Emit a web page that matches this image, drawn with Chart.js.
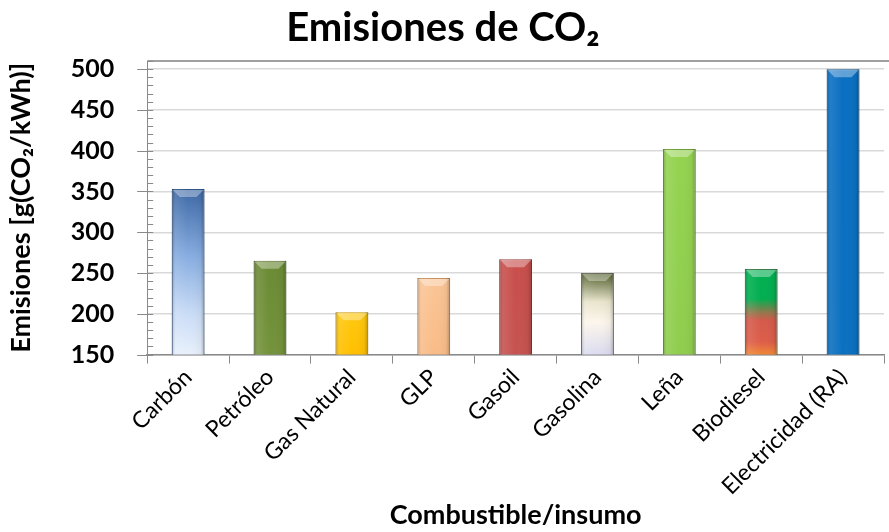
<!DOCTYPE html>
<html lang="es">
<head>
  <meta charset="UTF-8" />
  <title>Emisiones de CO2</title>
  <script src="https://cdn.jsdelivr.net/npm/chart.js"></script>
  <style>
    * { box-sizing: border-box; }
    body { margin: 0; background: #fff; }
    #wrap { width: 889px; height: 532px; }
  </style>
</head>
<body>
  <div id="wrap"><canvas id="chartCanvas"></canvas></div>
  <script>
    const categories = ["Carbón", "Petróleo", "Gas Natural", "GLP", "Gasoil", "Gasolina", "Leña", "Biodiesel", "Electricidad (RA)"];
    const emissions = [353, 265, 202, 244, 267, 250, 402, 255, 500];
    const yTicks = [150, 200, 250, 300, 350, 400, 450, 500];

    // gradient stops per bar, top (0) to bottom (1)
    const barStops = [
      [[0, "#3d68a5"], [0.4, "#86ace0"], [0.75, "#c9dcf6"], [1, "#e8f0fc"]],
      [[0, "#6a8a34"], [1, "#74933b"]],
      [[0, "#ffc90f"], [1, "#ffbf00"]],
      [[0, "#fbc596"], [1, "#f9bc88"]],
      [[0, "#c84e4b"], [1, "#c65350"]],
      [[0, "#515f2c"], [0.35, "#e8e4cc"], [0.6, "#fdf6ec"], [1, "#dadbef"]],
      [[0, "#94d350"], [1, "#8fcd4e"]],
      [[0, "#00b050"], [0.35, "#02ae50"], [0.5, "#8c7a4c"], [0.6, "#d45a4b"], [0.85, "#dd5d49"], [1, "#f08736"]],
      [[0, "#0a6fc2"], [1, "#0b70c0"]]
    ];
    const barEdges = ["#2f5587", "#4f6828", "#c89600", "#c89060", "#933a38", "#6a6a5a", "#6c9c38", "#3a7a48", "#07508e"];

    const Y_MIN = 150, Y_MAX = 510;

    function barFill(c) {
      const chart = c.chart;
      const stops = barStops[c.dataIndex] || [[0, "#888"], [1, "#888"]];
      if (!chart.chartArea) return stops[0][1];
      const y = chart.scales.y;
      const top = y.getPixelForValue(emissions[c.dataIndex]);
      const bot = y.getPixelForValue(Y_MIN);
      const g = chart.ctx.createLinearGradient(0, top, 0, bot);
      stops.forEach(s => g.addColorStop(s[0], s[1]));
      return g;
    }

    // soft bevel on each bar, drawn over the library's bar elements
    const bevel = {
      id: "bevel",
      afterDatasetsDraw(chart) {
        const ctx = chart.ctx;
        const bottom = chart.scales.y.getPixelForValue(Y_MIN);
        chart.getDatasetMeta(0).data.forEach(bar => {
          const left = bar.x - bar.width / 2, right = bar.x + bar.width / 2;
          const top = bar.y, base = Math.min(bar.base, bottom);
          ctx.save();
          const h = ctx.createLinearGradient(left, 0, right, 0);
          h.addColorStop(0, "rgba(0,0,0,0.22)");
          h.addColorStop(0.12, "rgba(255,255,255,0.10)");
          h.addColorStop(0.5, "rgba(255,255,255,0)");
          h.addColorStop(0.88, "rgba(0,0,0,0.04)");
          h.addColorStop(1, "rgba(0,0,0,0.25)");
          ctx.fillStyle = h;
          ctx.fillRect(left, top, bar.width, base - top);
          ctx.beginPath();
          ctx.moveTo(left + 1, top + 1);
          ctx.lineTo(right - 1, top + 1);
          ctx.lineTo(right - 8, top + 8);
          ctx.lineTo(left + 8, top + 8);
          ctx.closePath();
          ctx.fillStyle = "rgba(255,255,255,0.35)";
          ctx.fill();
          ctx.restore();
        });
      }
    };

    // top frame line plus major/minor tick marks on the value axis
    const axisMarks = {
      id: "axisMarks",
      afterDraw(chart) {
        const ctx = chart.ctx, a = chart.chartArea, y = chart.scales.y;
        ctx.save();
        ctx.strokeStyle = "#a0a0a0";
        ctx.lineWidth = 2;
        ctx.beginPath();
        ctx.moveTo(a.left, a.top);
        ctx.lineTo(chart.width, a.top);
        ctx.stroke();
        ctx.strokeStyle = "#8a8a8a";
        ctx.lineWidth = 1;
        ctx.beginPath();
        for (let v = Y_MIN; v <= Y_MAX; v += 10) {
          const py = Math.round(y.getPixelForValue(v)) + 0.5;
          ctx.moveTo(v % 50 === 0 ? a.left - 10 : a.left, py);
          ctx.lineTo(a.left + 6, py);
        }
        ctx.stroke();
        ctx.restore();
      }
    };

    const ctx = document.getElementById("chartCanvas").getContext("2d");
    new Chart(ctx, {
      type: "bar",
      data: {
        labels: categories,
        datasets: [{
          label: "Emisiones",
          data: emissions,
          backgroundColor: barFill,
          borderColor: barEdges,
          borderWidth: 1,
          categoryPercentage: 0.4,
          barPercentage: 1
        }]
      },
      options: {
        responsive: true,
        maintainAspectRatio: false,
        animation: false,
        layout: { padding: { left: 2, right: 5, top: 0, bottom: 2 } },
        plugins: {
          legend: { display: false },
          tooltip: { enabled: false },
          title: {
            display: true,
            text: "Emisiones de CO₂",
            color: "#000",
            font: { family: "Lato", size: 40, weight: "bold", lineHeight: 1.1 },
            padding: { top: 6, bottom: 11 }
          }
        },
        scales: {
          y: {
            min: Y_MIN,
            max: Y_MAX,
            afterBuildTicks(scale) {
              scale.ticks = yTicks.map(v => ({ value: v }));
            },
            border: { color: "#8a8a8a", width: 1 },
            grid: { color: "#d9d9d9", lineWidth: 1.5, drawTicks: false },
            ticks: {
              color: "#000",
              padding: 33,
              font: { family: "Lato", size: 25, weight: "bold" }
            },
            title: {
              display: true,
              text: "Emisiones [g(CO₂/kWh)]",
              color: "#000",
              font: { family: "Lato", size: 27, weight: "bold", lineHeight: 1.1 },
              padding: { bottom: 2 }
            }
          },
          x: {
            border: { color: "#8a8a8a", width: 1.5 },
            grid: { drawOnChartArea: false, drawTicks: true, tickLength: 9, color: "#8a8a8a", offset: true },
            ticks: {
              color: "#000",
              maxRotation: 45,
              minRotation: 45,
              padding: 0,
              font: { family: "Lato", size: 23 }
            },
            title: {
              display: true,
              text: "Combustible/insumo",
              color: "#000",
              font: { family: "Lato", size: 27, weight: "bold", lineHeight: 1.1 },
              padding: { top: 0, bottom: 0 }
            }
          }
        }
      },
      plugins: [bevel, axisMarks]
    });
  </script>
</body>
</html>
